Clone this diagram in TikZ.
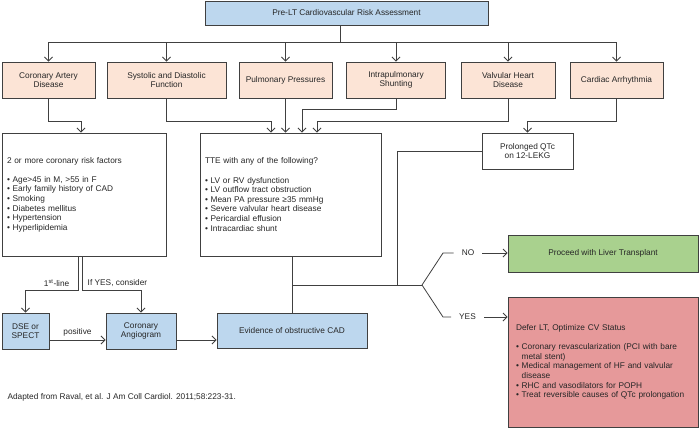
\documentclass[tikz,border=0pt]{standalone}
\usepackage{fontspec}
\setmainfont{Liberation Sans}
\usetikzlibrary{arrows.meta}
\definecolor{boxblue}{RGB}{189,215,238}
\definecolor{boxpeach}{RGB}{252,228,214}
\definecolor{boxgreen}{RGB}{169,209,142}
\definecolor{boxred}{RGB}{230,153,154}
\definecolor{edge}{RGB}{64,64,64}

\begin{document}
\begin{tikzpicture}[x = 1pt, y = -1pt,
  every node/.style = {font = \fontsize{8.3}{9.6}\selectfont, text = black!85},
  dims/.style 2 args = {minimum width = #1, minimum height = #2},
  box/.style = {draw = edge, line width = 0.9pt, align = center, inner sep = 2pt},
  bluebox/.style = {box, fill = boxblue},
  riskbox/.style = {box, fill = boxpeach},
  plainbox/.style = {box, fill = white},
  listbox/.style = {align = left, inner xsep = 5pt},
  wire/.style = {draw = edge, line width = 0.8pt},
  flow/.style = {wire, -{Straight Barb[length = 4pt, width = 8pt]}}]
\useasboundingbox (0, 0) rectangle (700, 429);

% assessment and risk areas
\node[bluebox, dims = {283}{24}] (assess) at (346.5, 13) {Pre-LT Cardiovascular Risk Assessment};
\node[riskbox, dims = {93}{36}] (cad) at (48.5, 80) {Coronary Artery\\Disease};
\node[riskbox, dims = {119}{36}] (sysdia) at (166.5, 80) {Systolic and Diastolic\\Function};
\node[riskbox, dims = {93}{36}] (pulm) at (285.5, 80) {Pulmonary Pressures};
\node[riskbox, dims = {99}{36}] (shunt) at (396, 80) {Intrapulmonary\\Shunting};
\node[riskbox, dims = {94}{36}] (valve) at (508, 80) {Valvular Heart\\Disease};
\node[riskbox, dims = {93}{36}] (arrhy) at (616.5, 80) {Cardiac Arrhythmia};

% screening
\node[plainbox, listbox, dims = {164}{123}, text width = 154] (risk) at (84, 194.5)
  {2 or more coronary risk factors\\[9.6pt]
   • Age>45 in M, >55 in F\\
   • Early family history of CAD\\
   • Smoking\\
   • Diabetes mellitus\\
   • Hypertension\\
   • Hyperlipidemia};
\node[plainbox, listbox, dims = {181}{123}, text width = 171] (tte) at (290.5, 194.5)
  {TTE with any of the following?\\[9.6pt]
   • LV or RV dysfunction\\
   • LV outflow tract obstruction\\
   • Mean PA pressure ≥35 mmHg\\
   • Severe valvular heart disease\\
   • Pericardial effusion\\
   • Intracardiac shunt};
\node[plainbox, dims = {91}{36}] (qtc) at (527.5, 151) {Prolonged QTc\\on 12-LEKG};

% work-up
\node[bluebox, dims = {47}{36}] (dse) at (25.5, 331) {DSE or\\SPECT};
\node[bluebox, dims = {70}{36}] (angio) at (141, 331) {Coronary\\Angiogram};
\node[bluebox, dims = {150}{35}] (obst) at (292, 330.5) {Evidence of obstructive CAD};

% outcomes
\node[box, fill = boxgreen, dims = {190}{37}] (proceed) at (603, 253.5) {Proceed with Liver Transplant};
\node[box, fill = boxred, listbox, dims = {190}{130}, text width = 174, inner xsep = 8pt] (defer) at (603, 362)
  {Defer LT, Optimize CV Status\\[9.6pt]
   • Coronary revascularization (PCI with bare\\
   \hphantom{• }metal stent)\\
   • Medical management of HF and valvular\\
   \hphantom{• }disease\\
   • RHC and vasodilators for POPH\\
   • Treat reversible causes of QTc prolongation};
\node[inner xsep = 8pt] (no) at (468, 253) {NO};
\node[inner xsep = 8pt] (yes) at (467.5, 317) {YES};

\node[anchor = west] (source) at (4, 397) {Adapted from Raval, et al. J Am Coll Cardiol. 2011;58:223-31.};

% levels of the elbows
\coordinate (bus) at (340, 42);
\coordinate (elbow) at (0, 121);
\coordinate (elbowhi) at (0, 109);
\coordinate (fork) at (0, 290);
\coordinate (merge) at (0, 285);
\coordinate (qjoin) at (397, 285);
\coordinate (split) at (422, 285);

\draw[wire] (assess.south -| bus) -- (bus);
\draw[wire] (cad.north |- bus) -- (arrhy.north |- bus);
\foreach \n in {cad, sysdia, pulm, shunt, valve, arrhy}
  \draw[flow] (\n.north |- bus) -- (\n.north);

\draw[flow] (cad.south) -- (cad.south |- elbow) -| ([xshift = -3pt]risk.north);
\draw[flow] (sysdia.south) -- (sysdia.south |- elbow) -| ([xshift = -19.5pt]tte.north);
\draw[flow] (pulm.south) -- (pulm.south |- tte.north);
\draw[flow] (shunt.south) -- (shunt.south |- elbowhi) -| ([xshift = 11.5pt]tte.north);
\draw[flow] (valve.south) -- (valve.south |- elbow) -| ([xshift = 26.5pt]tte.north);
\draw[flow] (arrhy.south) -- (arrhy.south |- elbow) -| (qtc.north);

\draw[flow] ([xshift = -6pt]risk.south) -- node[left = 5pt, pos = 0.8] {1\textsuperscript{st}-line}
  ([xshift = -6pt]risk.south |- fork) -| (dse.north);
\draw[flow] ([xshift = -2pt]risk.south) -- node[right = 2pt, pos = 0.8] {If YES, consider}
  ([xshift = -2pt]risk.south |- fork) -| (angio.north);
\draw[flow] ([yshift = -9pt]dse.east) -- node[above] {positive} ([yshift = -9pt]dse.east -| angio.west);
\draw[flow] ([yshift = -9pt]angio.east) -- ([yshift = -9pt]angio.east -| obst.west);

\draw[wire] (tte.south -| obst.north) -- (obst.north);
\draw[wire] (obst.north |- merge) -- (split);
\draw[wire] (qtc.west) -| (qjoin);
\draw[wire] (split) -- ++(21, -32) -- (no.west);
\draw[wire] (split) -- ++(21, 32) -- (yes.west);
\draw[flow] (no.east) -- (no.east -| proceed.west);
\draw[flow] (yes.east) -- (yes.east -| defer.west);
\end{tikzpicture}
\end{document}
